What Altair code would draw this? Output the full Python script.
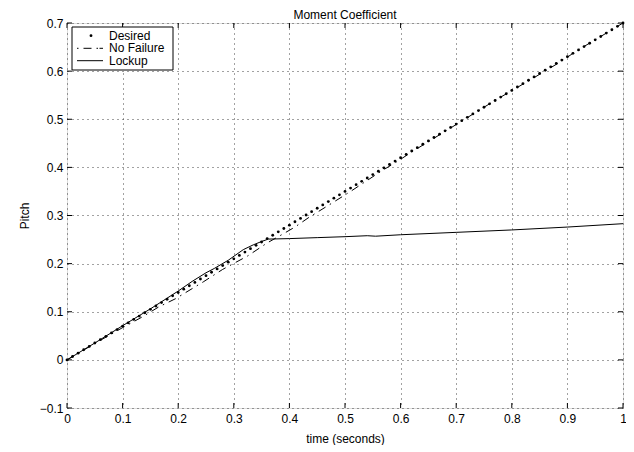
import altair as alt
import pandas as pd

# ---- data ----
desired_t = [0.00, 0.01, 0.02, 0.03, 0.04, 0.05, 0.06, 0.07, 0.08, 0.09,
             0.10, 0.11, 0.12, 0.13, 0.14, 0.15, 0.16, 0.17, 0.18, 0.19,
             0.20, 0.21, 0.22, 0.23, 0.24, 0.25, 0.26, 0.27, 0.28, 0.29,
             0.30, 0.31, 0.32, 0.33, 0.34, 0.35, 0.36, 0.37, 0.38, 0.39,
             0.40, 0.41, 0.42, 0.43, 0.44, 0.45, 0.46, 0.47, 0.48, 0.49,
             0.50, 0.51, 0.52, 0.53, 0.54, 0.55, 0.56, 0.57, 0.58, 0.59,
             0.60, 0.61, 0.62, 0.63, 0.64, 0.65, 0.66, 0.67, 0.68, 0.69,
             0.70, 0.71, 0.72, 0.73, 0.74, 0.75, 0.76, 0.77, 0.78, 0.79,
             0.80, 0.81, 0.82, 0.83, 0.84, 0.85, 0.86, 0.87, 0.88, 0.89,
             0.90, 0.91, 0.92, 0.93, 0.94, 0.95, 0.96, 0.97, 0.98, 0.99,
             1.00]
desired_y = [0.000, 0.007, 0.014, 0.021, 0.028, 0.035, 0.042, 0.049, 0.056, 0.063,
             0.070, 0.077, 0.084, 0.091, 0.098, 0.105, 0.112, 0.119, 0.126, 0.133,
             0.140, 0.147, 0.154, 0.161, 0.168, 0.175, 0.182, 0.189, 0.196, 0.203,
             0.210, 0.217, 0.224, 0.231, 0.238, 0.245, 0.252, 0.259, 0.266, 0.273,
             0.280, 0.287, 0.294, 0.301, 0.308, 0.315, 0.322, 0.329, 0.336, 0.343,
             0.350, 0.357, 0.364, 0.371, 0.378, 0.385, 0.392, 0.399, 0.406, 0.413,
             0.420, 0.427, 0.434, 0.441, 0.448, 0.455, 0.462, 0.469, 0.476, 0.483,
             0.490, 0.497, 0.504, 0.511, 0.518, 0.525, 0.532, 0.539, 0.546, 0.553,
             0.560, 0.567, 0.574, 0.581, 0.588, 0.595, 0.602, 0.609, 0.616, 0.623,
             0.630, 0.637, 0.644, 0.651, 0.658, 0.665, 0.672, 0.679, 0.686, 0.693,
             0.700]

nofail_t = [0.0, 0.05, 0.10, 0.135, 0.165, 0.195, 0.245, 0.28, 0.325, 0.36, 0.38,
            0.41, 0.435, 0.47, 0.51, 0.565, 0.595, 0.62, 0.70, 0.75, 0.78, 0.835,
            0.89, 0.915, 0.95, 1.0]
nofail_y = [0.0, 0.034, 0.067, 0.089, 0.110, 0.127, 0.162, 0.188, 0.216, 0.243, 0.256,
            0.276, 0.296, 0.321, 0.350, 0.392, 0.413, 0.432, 0.489, 0.525, 0.546, 0.583,
            0.621, 0.641, 0.665, 0.700]

lockup_t = [0.0, 0.05, 0.10, 0.15, 0.20, 0.225, 0.25, 0.265, 0.29, 0.317, 0.335, 0.35,
            0.362, 0.40, 0.45, 0.50, 0.54, 0.555, 0.60, 0.70, 0.80, 0.90, 1.0]
lockup_y = [0.0, 0.035, 0.071, 0.106, 0.143, 0.163, 0.181, 0.190, 0.207, 0.229, 0.239, 0.246,
            0.251, 0.252, 0.254, 0.256, 0.258, 0.257, 0.260, 0.265, 0.270, 0.276, 0.283]

x_ticks = [0, 0.1, 0.2, 0.3, 0.4, 0.5, 0.6, 0.7, 0.8, 0.9, 1]
y_ticks = [-0.1, 0, 0.1, 0.2, 0.3, 0.4, 0.5, 0.6, 0.7]

legend_labels = ["Desired", "No Failure", "Lockup"]
title_text = "Moment Coefficient"
x_title = "time (seconds)"
y_title = "Pitch"

FONT = "Liberation Sans"
W, H = 556, 385

desired_df = pd.DataFrame({"t": desired_t, "y": desired_y})
nofail_df = pd.DataFrame({"t": nofail_t, "y": nofail_y})
lockup_df = pd.DataFrame({"t": lockup_t, "y": lockup_y})
xt_df = pd.DataFrame({"t": x_ticks})
yt_df = pd.DataFrame({"y": y_ticks})

x_scale = alt.Scale(domain=[0, 1], nice=False, zero=False)
y_scale = alt.Scale(domain=[-0.1, 0.7], nice=False, zero=False)

x_axis = alt.Axis(values=x_ticks, format="~g", grid=True, gridDash=[1, 4], gridColor="#444",
                  gridWidth=1, ticks=False, domain=False, labelFlush=False, labelOverlap=False,
                  labelPadding=5, labelFontSize=12, labelFont=FONT, labelColor="black",
                  title=x_title, titleFont=FONT, titleFontSize=12, titleFontWeight="normal",
                  titleColor="black", titlePadding=9)
y_axis = alt.Axis(values=y_ticks, format="~g", grid=True, gridDash=[1, 4], gridColor="#444",
                  gridWidth=1, ticks=False, domain=False, labelFlush=False, labelOverlap=False,
                  labelPadding=4, labelFontSize=12, labelFont=FONT, labelColor="black",
                  title=y_title, titleFont=FONT, titleFontSize=12, titleFontWeight="normal",
                  titleColor="black", titlePadding=8)

X = alt.X("t:Q", scale=x_scale, axis=x_axis)
Y = alt.Y("y:Q", scale=y_scale, axis=y_axis)

TL = 5  # inward tick length

ticks_bottom = alt.Chart(xt_df).mark_rule(color="black", strokeWidth=1).encode(
    x=X, y=alt.value(H), y2=alt.value(H - TL))
ticks_top = alt.Chart(xt_df).mark_rule(color="black", strokeWidth=1).encode(
    x=X, y=alt.value(0), y2=alt.value(TL))
ticks_left = alt.Chart(yt_df).mark_rule(color="black", strokeWidth=1).encode(
    y=Y, x=alt.value(0), x2=alt.value(TL))
ticks_right = alt.Chart(yt_df).mark_rule(color="black", strokeWidth=1).encode(
    y=Y, x=alt.value(W), x2=alt.value(W - TL))

nofail_line = alt.Chart(nofail_df).mark_line(
    color="black", strokeWidth=1, strokeDash=[8, 5, 1.5, 5]).encode(x=X, y=Y, order="t:Q")
lockup_line = alt.Chart(lockup_df).mark_line(
    color="black", strokeWidth=1).encode(x=X, y=Y, order="t:Q")
desired_pts = alt.Chart(desired_df).mark_circle(
    color="black", size=8, opacity=1).encode(x=X, y=Y)

# ---- legend box (top-left) ----
lg = [pd.DataFrame({"label": [l]}) for l in legend_labels]
LX0, LX1, LY0, LY1 = 5, 106, 4, 47
rows = [12.7, 25.3, 37.7]
legend_box = alt.Chart(lg[0]).mark_rect(fill="white", stroke="black", strokeWidth=1).encode(
    x=alt.value(LX0), x2=alt.value(LX1), y=alt.value(LY0), y2=alt.value(LY1))
legend_dot = alt.Chart(lg[0]).mark_circle(color="black", size=8, opacity=1).encode(
    x=alt.value(24), y=alt.value(rows[0]))
legend_nf = alt.Chart(lg[1]).mark_rule(color="black", strokeWidth=1, strokeDash=[1.5, 5, 8, 5, 1.5]).encode(
    x=alt.value(10), x2=alt.value(36), y=alt.value(rows[1]))
legend_lk = alt.Chart(lg[2]).mark_rule(color="black", strokeWidth=1).encode(
    x=alt.value(10), x2=alt.value(36), y=alt.value(rows[2]))
legend_texts = [
    alt.Chart(lg[i]).mark_text(align="left", baseline="middle", font=FONT, fontSize=12,
                               color="black").encode(
        text="label:N", x=alt.value(42), y=alt.value(rows[i]))
    for i in range(3)
]

chart = alt.layer(
    ticks_bottom, ticks_top, ticks_left, ticks_right,
    nofail_line, lockup_line, desired_pts,
    legend_box, legend_dot, legend_nf, legend_lk, *legend_texts
).properties(
    width=W, height=H,
    autosize="none",
    padding={"left": 59, "top": 15, "right": 3, "bottom": 37},
    title=alt.Title(title_text, font=FONT, fontSize=12, fontWeight="normal", color="black",
                    anchor="middle", offset=-5),
).configure_view(
    stroke="black", strokeWidth=1
).configure(background="white")

chart.save("out.html", embed_options={"renderer": "svg", "actions": False})
